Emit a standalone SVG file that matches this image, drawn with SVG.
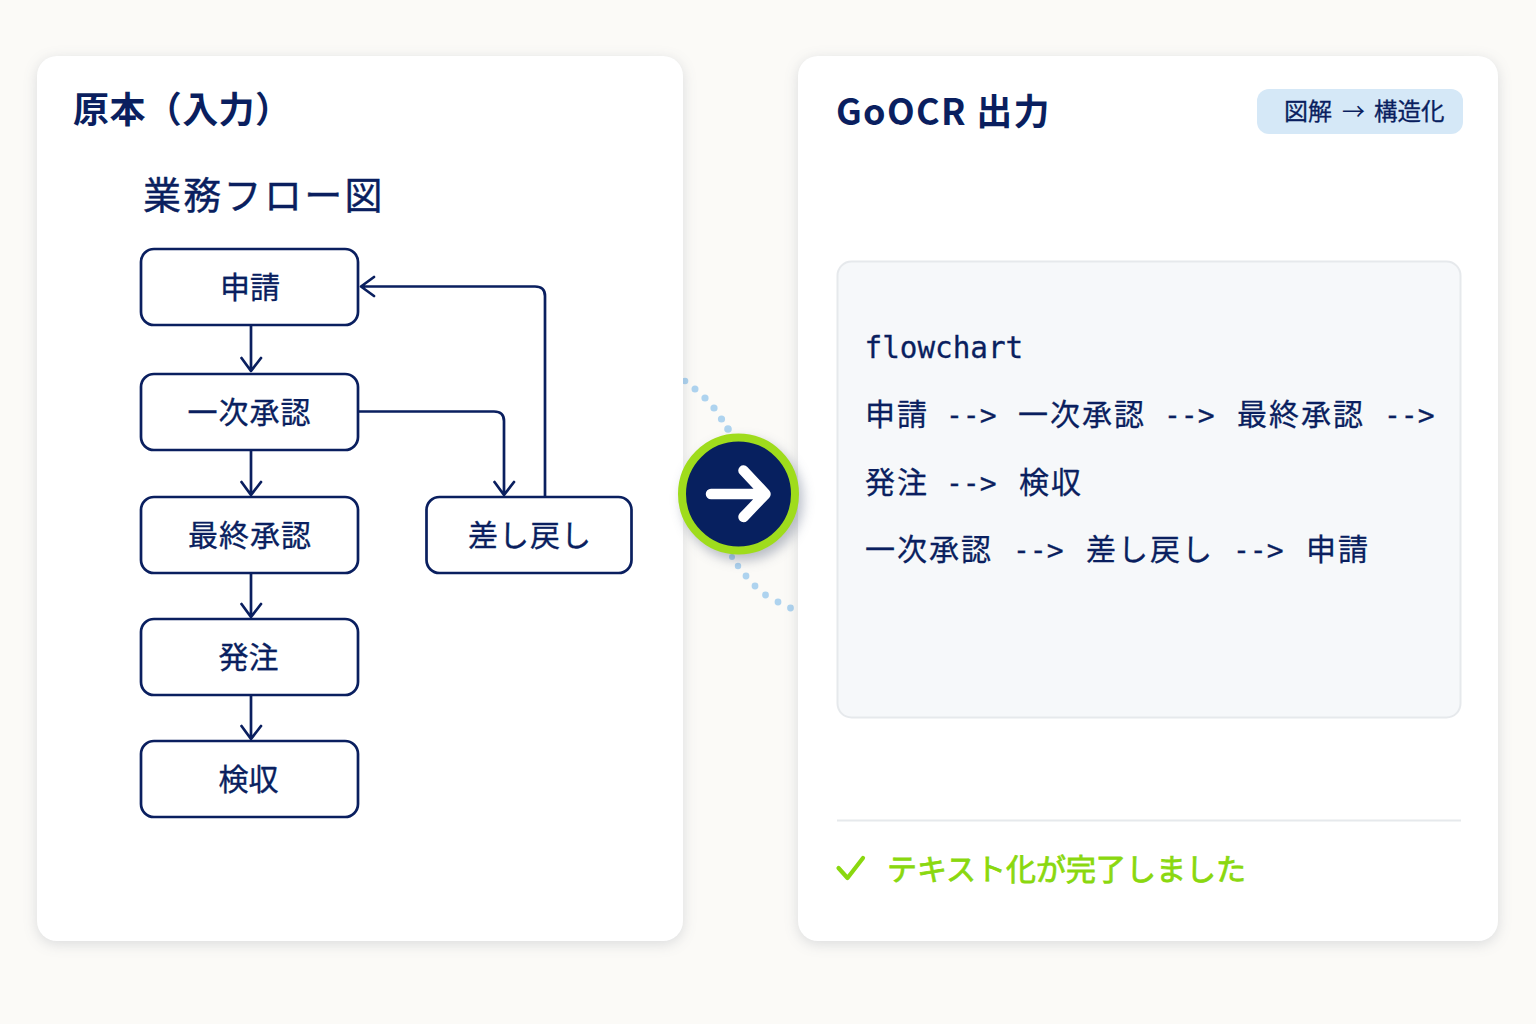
<svg xmlns="http://www.w3.org/2000/svg" width="1536" height="1024" viewBox="0 0 1536 1024">
<defs>
<filter id="sh" x="-10%" y="-10%" width="120%" height="120%" color-interpolation-filters="sRGB"><feDropShadow dx="0" dy="3" stdDeviation="7" flood-color="#33405a" flood-opacity="0.16"/></filter>
<filter id="sc" x="-30%" y="-30%" width="170%" height="170%" color-interpolation-filters="sRGB"><feDropShadow dx="4" dy="6" stdDeviation="6" flood-color="#1a2a50" flood-opacity="0.3"/></filter>
</defs>
<style>
.jp{font-family:"Noto Sans CJK JP","Noto Sans",sans-serif;fill:#0a1f5f}
.n{fill:#fff;stroke:#0a1f5f;stroke-width:2.7}
.l{font-size:30px;text-anchor:middle;font-weight:400;stroke:#0a1f5f;stroke-width:.35}
.w{letter-spacing:1px}
.c{fill:none;stroke:#0a1f5f;stroke-width:2.7;stroke-linecap:round;stroke-linejoin:round}
.code{font-family:"Noto Sans CJK JP",sans-serif;font-size:30px;letter-spacing:2px;fill:#0a1f5f;stroke:#0a1f5f;stroke-width:.3}
.m{font-family:"DejaVu Sans Mono","Liberation Mono",monospace;font-size:28px;letter-spacing:0}
.d{fill:#aed3ef}
</style>
<rect width="1536" height="1024" fill="#fbfaf7"/>
<g id="dots" class="d">
<circle cx="685" cy="381" r="3.300"/><circle cx="695" cy="389" r="3.500"/><circle cx="705" cy="398" r="3.600"/><circle cx="714" cy="408" r="3.600"/><circle cx="721.500" cy="419" r="3.600"/><circle cx="728" cy="429" r="3.800"/>
<circle cx="732" cy="557" r="3"/><circle cx="738" cy="566" r="3.200"/><circle cx="746" cy="576" r="3.400"/><circle cx="755" cy="586" r="3.400"/><circle cx="765.500" cy="595" r="3.400"/><circle cx="778" cy="602" r="3.400"/><circle cx="790.500" cy="608" r="3.400"/>
</g>
<g id="panel-left">
<rect x="37" y="56" width="646" height="885" rx="20" fill="#fff" filter="url(#sh)"/>
<text x="73" y="123" class="jp" font-size="36" font-weight="700" letter-spacing=".4">原本（入力）</text>
<text x="143" y="209" class="jp" font-size="38" font-weight="400" letter-spacing="2.300" stroke="#0a1f5f" stroke-width=".4">業務フロー図</text>
</g>
<g id="panel-right">
<rect x="798" y="56" width="700" height="885" rx="20" fill="#fff" filter="url(#sh)"/>
<text x="836" y="125" class="jp" font-size="36" font-weight="700" letter-spacing="1.300">GoOCR 出力</text>
</g>
<g id="badge">
<rect x="1257" y="89" width="206" height="45" rx="12" fill="#d5e8f7"/>
<text x="1284" y="120" class="jp" font-size="24" font-weight="400" stroke="#0a1f5f" stroke-width=".3">図解</text>
<text x="1342" y="120" class="jp" font-size="23">→</text>
<text x="1374" y="120" class="jp" font-size="23.500" font-weight="400" stroke="#0a1f5f" stroke-width=".3">構造化</text>
</g>
<g id="code-box">
<rect x="837.500" y="261.500" width="623" height="456" rx="14" fill="#f6f8fa" stroke="#e6e9ec" stroke-width="2"/>
<text x="864.500" y="358" class="code m" style="font-size:29.300px">flowchart</text>
<text y="425" class="code"><tspan x="865">申請</tspan><tspan class="m" x="946">--&gt;</tspan><tspan x="1018">一次承認</tspan><tspan class="m" x="1164">--&gt;</tspan><tspan x="1237">最終承認</tspan><tspan class="m" x="1384">--&gt;</tspan></text>
<text y="493" class="code"><tspan x="865">発注</tspan><tspan class="m" x="946">--&gt;</tspan><tspan x="1019">検収</tspan></text>
<text y="560" class="code"><tspan x="865">一次承認</tspan><tspan class="m" x="1013">--&gt;</tspan><tspan x="1086">差し戻し</tspan><tspan class="m" x="1233">--&gt;</tspan><tspan x="1306">申請</tspan></text>
</g>
<g id="status">
<line x1="837" y1="820.500" x2="1461" y2="820.500" stroke="#e6e9ec" stroke-width="2"/>
<path d="M838.500 868L847.500 878L863 858" fill="none" stroke="#8ad80f" stroke-width="4.200" stroke-linecap="round" stroke-linejoin="round"/>
<text x="887" y="880" font-family="Noto Sans CJK JP,sans-serif" font-size="30" font-weight="400" fill="#8ad80f" stroke="#8ad80f" stroke-width=".8">テキスト化が完了しました</text>
</g>
<g id="connectors">
<path class="c" d="M251 326V371M241.500 358L251 371L261 358"/>
<path class="c" d="M251 451V495M241.500 482L251 495L261 482"/>
<path class="c" d="M251 574V617M241.500 604L251 617L261 604"/>
<path class="c" d="M251 696V739M241.500 726L251 739L261 726"/>
<path class="c" d="M358 411.500H494Q504 411.500 504 421V495M494.500 482L504 495L514 482"/>
<path class="c" d="M545 496V296Q545 286.500 535 286.500H361M374 277L361 286.500L374 296"/>
</g>
<g id="node-shinsei"><rect class="n" x="141" y="249" width="217" height="76" rx="13"/><text class="jp l" x="250" y="298">申請</text></g>
<g id="node-ichiji"><rect class="n" x="141" y="374" width="217" height="76" rx="13"/><text class="jp l w" x="249.500" y="423">一次承認</text></g>
<g id="node-saishu"><rect class="n" x="141" y="497" width="217" height="76" rx="13"/><text class="jp l w" x="250" y="546">最終承認</text></g>
<g id="node-modoshi"><rect class="n" x="426.500" y="497" width="205" height="76" rx="13"/><text class="jp l w" x="530" y="546">差し戻し</text></g>
<g id="node-hatchu"><rect class="n" x="141" y="619" width="217" height="76" rx="13"/><text class="jp l" x="248.500" y="668">発注</text></g>
<g id="node-kenshu"><rect class="n" x="141" y="741" width="217" height="76" rx="13"/><text class="jp l" x="248.500" y="790">検収</text></g>
<g id="arrow-button">
<circle cx="738.500" cy="494" r="56.500" fill="#07205f" stroke="#9fdc1c" stroke-width="8" filter="url(#sc)"/>
<path d="M711 494H765M743.500 470.500L765.500 494L743.500 517" fill="none" stroke="#fff" stroke-width="10.500" stroke-linecap="round" stroke-linejoin="round"/>
</g>
</svg>
